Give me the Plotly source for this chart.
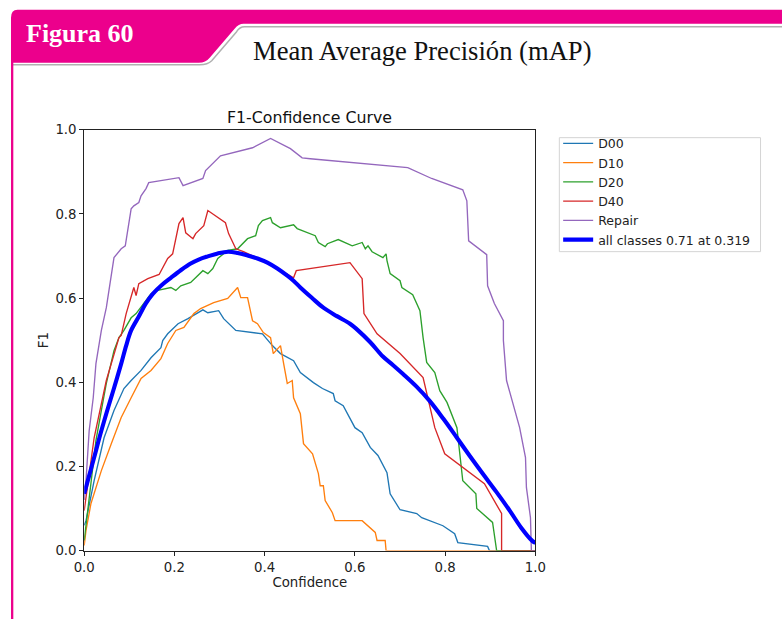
import plotly.graph_objects as go

# ---------------- data ----------------
d00_x = [0.0, 0.004, 0.022, 0.044, 0.066, 0.088, 0.104, 0.126, 0.148, 0.170, 0.174, 0.185, 0.208, 0.230, 0.263, 0.274, 0.298, 0.309, 0.336, 0.375, 0.395, 0.417, 0.435, 0.464, 0.479, 0.508, 0.528, 0.552, 0.556, 0.574, 0.583, 0.600, 0.616, 0.634, 0.651, 0.660, 0.671, 0.678, 0.700, 0.737, 0.748, 0.795, 0.821, 0.828, 0.894, 0.898, 1.0]
d00_y = [0.06, 0.071, 0.166, 0.268, 0.333, 0.385, 0.404, 0.428, 0.458, 0.482, 0.499, 0.515, 0.539, 0.551, 0.572, 0.565, 0.570, 0.551, 0.523, 0.518, 0.515, 0.487, 0.468, 0.451, 0.423, 0.399, 0.385, 0.373, 0.356, 0.344, 0.325, 0.292, 0.280, 0.245, 0.226, 0.209, 0.185, 0.135, 0.097, 0.088, 0.078, 0.059, 0.040, 0.019, 0.010, 0.0, 0.0]

d10_x = [0.0, 0.004, 0.015, 0.038, 0.060, 0.082, 0.104, 0.126, 0.148, 0.170, 0.185, 0.203, 0.221, 0.243, 0.258, 0.287, 0.318, 0.340, 0.347, 0.362, 0.373, 0.384, 0.397, 0.413, 0.419, 0.435, 0.442, 0.450, 0.461, 0.464, 0.479, 0.486, 0.506, 0.519, 0.523, 0.530, 0.534, 0.550, 0.556, 0.616, 0.645, 0.649, 0.667, 0.669, 1.0]
d10_y = [0.012, 0.048, 0.112, 0.190, 0.254, 0.316, 0.363, 0.409, 0.428, 0.456, 0.492, 0.523, 0.530, 0.563, 0.575, 0.589, 0.599, 0.625, 0.601, 0.601, 0.546, 0.539, 0.518, 0.506, 0.468, 0.487, 0.444, 0.397, 0.404, 0.363, 0.325, 0.254, 0.230, 0.183, 0.154, 0.154, 0.119, 0.090, 0.071, 0.071, 0.043, 0.024, 0.024, 0.0, 0.0]

d20_x = [0.0, 0.011, 0.026, 0.038, 0.049, 0.066, 0.077, 0.088, 0.104, 0.115, 0.148, 0.163, 0.192, 0.203, 0.214, 0.236, 0.252, 0.263, 0.274, 0.285, 0.296, 0.318, 0.340, 0.362, 0.380, 0.386, 0.395, 0.413, 0.417, 0.435, 0.464, 0.472, 0.512, 0.519, 0.534, 0.539, 0.563, 0.594, 0.616, 0.623, 0.629, 0.638, 0.662, 0.669, 0.671, 0.678, 0.700, 0.704, 0.728, 0.744, 0.751, 0.759, 0.777, 0.788, 0.804, 0.817, 0.826, 0.839, 0.868, 0.870, 0.905, 0.914, 1.0]
d20_y = [0.024, 0.126, 0.261, 0.333, 0.397, 0.475, 0.506, 0.523, 0.553, 0.563, 0.610, 0.618, 0.625, 0.618, 0.629, 0.637, 0.653, 0.665, 0.658, 0.670, 0.694, 0.713, 0.717, 0.741, 0.748, 0.772, 0.784, 0.791, 0.779, 0.767, 0.774, 0.765, 0.748, 0.732, 0.722, 0.729, 0.739, 0.724, 0.732, 0.717, 0.724, 0.710, 0.696, 0.705, 0.689, 0.658, 0.641, 0.625, 0.608, 0.570, 0.506, 0.447, 0.423, 0.380, 0.352, 0.314, 0.292, 0.166, 0.135, 0.100, 0.067, 0.0, 0.0]

d40_x = [0.0, 0.009, 0.022, 0.049, 0.077, 0.082, 0.093, 0.108, 0.110, 0.115, 0.121, 0.141, 0.166, 0.185, 0.196, 0.210, 0.219, 0.225, 0.241, 0.247, 0.265, 0.274, 0.313, 0.320, 0.336, 0.353, 0.406, 0.464, 0.470, 0.589, 0.616, 0.620, 0.649, 0.700, 0.751, 0.777, 0.799, 0.887, 0.925, 0.925, 1.0]
d40_y = [0.095, 0.166, 0.268, 0.404, 0.506, 0.511, 0.563, 0.618, 0.625, 0.606, 0.634, 0.646, 0.656, 0.694, 0.705, 0.777, 0.791, 0.755, 0.741, 0.753, 0.772, 0.808, 0.779, 0.753, 0.717, 0.710, 0.684, 0.648, 0.665, 0.684, 0.646, 0.563, 0.515, 0.468, 0.411, 0.292, 0.230, 0.159, 0.088, 0.0, 0.0]

repair_x = [0.0, 0.004, 0.011, 0.020, 0.026, 0.035, 0.038, 0.049, 0.066, 0.082, 0.091, 0.104, 0.110, 0.121, 0.126, 0.137, 0.143, 0.210, 0.219, 0.263, 0.269, 0.302, 0.373, 0.413, 0.457, 0.483, 0.501, 0.717, 0.770, 0.839, 0.848, 0.852, 0.892, 0.894, 0.909, 0.929, 0.929, 0.936, 0.965, 0.978, 0.980, 0.989, 0.991, 1.0]
repair_y = [0.12, 0.166, 0.285, 0.363, 0.444, 0.499, 0.523, 0.577, 0.696, 0.717, 0.724, 0.812, 0.819, 0.827, 0.843, 0.860, 0.874, 0.886, 0.867, 0.884, 0.903, 0.938, 0.957, 0.979, 0.955, 0.933, 0.931, 0.910, 0.884, 0.857, 0.831, 0.736, 0.703, 0.629, 0.587, 0.546, 0.499, 0.404, 0.292, 0.221, 0.150, 0.078, 0.0, 0.0]

all_x = [0.0, 0.011, 0.022, 0.037, 0.053, 0.068, 0.082, 0.093, 0.104, 0.121, 0.136, 0.152, 0.172, 0.192, 0.214, 0.236, 0.255, 0.274, 0.296, 0.319, 0.340, 0.362, 0.384, 0.406, 0.428, 0.450, 0.465, 0.479, 0.505, 0.530, 0.560, 0.589, 0.605, 0.634, 0.662, 0.684, 0.706, 0.736, 0.766, 0.796, 0.826, 0.855, 0.883, 0.913, 0.943, 0.968, 0.993, 1.0]
all_y = [0.135, 0.178, 0.221, 0.281, 0.340, 0.393, 0.444, 0.487, 0.523, 0.556, 0.586, 0.610, 0.631, 0.648, 0.666, 0.682, 0.692, 0.699, 0.706, 0.710, 0.707, 0.701, 0.694, 0.684, 0.670, 0.653, 0.640, 0.625, 0.600, 0.577, 0.557, 0.539, 0.525, 0.495, 0.461, 0.441, 0.420, 0.390, 0.355, 0.313, 0.268, 0.224, 0.183, 0.140, 0.095, 0.055, 0.023, 0.018]

class_names = ["D00", "D10", "D20", "D40", "Repair"]
all_label = "all classes 0.71 at 0.319"
tick_vals = [0.0, 0.2, 0.4, 0.6, 0.8, 1.0]
tick_text = ["0.0", "0.2", "0.4", "0.6", "0.8", "1.0"]

# ---------------- layout helpers ----------------
W, H = 782, 619
# the snapshot shrinks the page slightly about its centre; map target pixels to page pixels
SX, CX = 0.9757, 9.5
SY, CY = 0.976, 6.3
K = 1 / SY  # size compensation

def X(rx):
    return ((rx - CX) / SX) / W
def Y(ry):
    return 1 - ((ry - CY) / SY) / H

colors = ["#1f77b4", "#ff7f0e", "#2ca02c", "#d62728", "#9467bd"]
series = [(d00_x, d00_y), (d10_x, d10_y), (d20_x, d20_y), (d40_x, d40_y), (repair_x, repair_y)]

fig = go.Figure()
for name, (xs, ys), c in zip(class_names, series, colors):
    fig.add_trace(go.Scatter(x=xs, y=ys, mode="lines", name=name,
                             line=dict(color=c, width=1.35)))
fig.add_trace(go.Scatter(x=all_x, y=all_y, mode="lines", name=all_label,
                         line=dict(color="#0000ff", width=4.1, shape="spline", smoothing=1.0)))

PINK = "#EC008C"

tab_path = ("M {a},{b} L {a},{c} Q {a},{d} {e},{d} L 1.02,{d} L 1.02,{f} L {g},{f} "
            "Q {h},{f} {i},{j} L {k},{l} Q {m},{n} {o},{n} Z").format(
    a=0.0, b=Y(62), c=Y(17), d=Y(9), e=X(16), f=Y(23), g=X(243),
    h=X(238), i=X(234), j=Y(28), k=X(209), l=Y(57), m=X(205), n=Y(62), o=X(198))
shadow_path = ("M 1.02,{a} L {b},{a} Q {c},{a} {d},{e} L {f},{g} Q {h},{i} {j},{i} L {k},{i}").format(
    a=Y(26), b=X(244), c=X(239), d=X(236), e=Y(31), f=X(211), g=Y(60),
    h=X(207), i=Y(64), j=X(199), k=X(11))

shapes = [
    dict(type="path", xref="paper", yref="paper", path=shadow_path,
         line=dict(color="#b0b0b0", width=1.5), fillcolor="rgba(0,0,0,0)", layer="below"),
    dict(type="path", xref="paper", yref="paper", path=tab_path,
         line=dict(color=PINK, width=0), fillcolor=PINK, layer="below"),
    dict(type="line", xref="paper", yref="paper", x0=1.2 / W, x1=1.2 / W, y0=Y(60), y1=-0.02,
         line=dict(color=PINK, width=2.3), layer="below"),
    # legend frame
    dict(type="rect", xref="paper", yref="paper", x0=X(560), x1=X(762), y0=Y(251), y1=Y(137),
         line=dict(color="#d4d4d4", width=1), fillcolor="white", layer="below"),
]

annotations = [
    dict(text="<b>Figura 60</b>", x=X(23), y=Y(33), xref="paper", yref="paper",
         xanchor="left", yanchor="middle", showarrow=False,
         font=dict(family="Liberation Serif", size=26, color="white")),
    dict(text="Mean Average Precisión (mAP)", x=X(422.5), y=Y(50), xref="paper", yref="paper",
         xanchor="center", yanchor="middle", showarrow=False,
         font=dict(family="Liberation Serif", size=26.6, color="#111111")),
    dict(text="F1-Confidence Curve", x=(X(83) + X(536)) / 2, y=Y(117), xref="paper", yref="paper",
         xanchor="center", yanchor="middle", showarrow=False,
         font=dict(family="DejaVu Sans", size=15.4 * K, color="#111111")),
]

axis_common = dict(range=[0, 1], tickvals=tick_vals, ticktext=tick_text,
                   showgrid=False, zeroline=False, showline=True, mirror=True,
                   linecolor="#222222", linewidth=1, ticks="outside", ticklen=4,
                   tickcolor="#222222", tickwidth=1,
                   tickfont=dict(family="DejaVu Sans", size=13 * K, color="#222222"))

fig.update_layout(
    width=W, height=H,
    margin=dict(l=0, r=0, t=0, b=0),
    paper_bgcolor="white", plot_bgcolor="white",
    xaxis=dict(domain=[X(83), X(536)],
               title=dict(text="Confidence", standoff=2,
                          font=dict(family="DejaVu Sans", size=13 * K, color="#222222")),
               **axis_common),
    yaxis=dict(domain=[Y(550), Y(129)],
               title=dict(text="F1", standoff=3,
                          font=dict(family="DejaVu Sans", size=13 * K, color="#222222")),
               **axis_common),
    legend=dict(x=563 / W, y=1 - 124.8 / H, xanchor="left", yanchor="top",
                bgcolor="rgba(0,0,0,0)", borderwidth=0,
                font=dict(family="DejaVu Sans", size=12.5, color="#222222"),
                itemwidth=30),
    shapes=shapes,
    annotations=annotations,
    showlegend=True,
)

fig.write_html("out.html", config={"displayModeBar": False},
               post_script="document.body.style.margin='0';")
